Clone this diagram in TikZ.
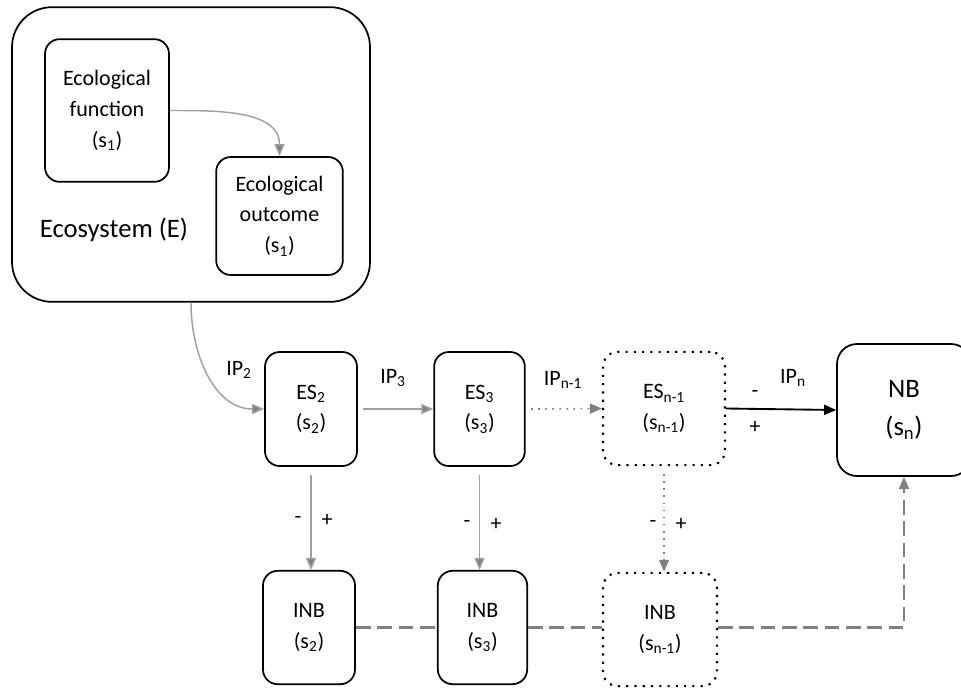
\documentclass[tikz,border=0pt]{standalone}
\usepackage{fontspec}
\setmainfont{Carlito}
\usepackage{tikz}
\usetikzlibrary{arrows.meta}
\definecolor{linkgray}{RGB}{160,160,160}
\definecolor{headgray}{RGB}{128,128,128}

\tikzset{
	box/.style={draw, line width=1.3pt, rounded corners=11pt, align=center, inner sep=0pt,
		font=\fontsize{16.5}{23}\selectfont},
	dotbox/.style={box, line width=1.6pt, dash pattern=on 1.6pt off 4.6pt, line cap=butt},
	link/.style={draw=linkgray, line width=1.1pt, -{Triangle[length=9pt,width=7.5pt,fill=headgray]}},
	dotlink/.style={link, draw=headgray, line width=1.2pt, dash pattern=on 1.3pt off 4pt},
	dashlink/.style={draw=headgray, line width=1.6pt, dash pattern=on 11pt off 5pt},
	lbl/.style={font=\fontsize{16.5}{18}\selectfont, inner sep=0pt},
}

\begin{document}
\begin{tikzpicture}[x=0.75pt,y=-0.75pt]
	\clip (0,0) rectangle (961,687);

	\node[box, rounded corners=30pt, minimum width=268.5pt, minimum height=221pt] (eco) at (191,154.5) {};
	\node[box, minimum width=93pt, minimum height=107pt] (func) at (107,110.5) {Ecological\\function\\(s\textsubscript{1})};
	\node[box, minimum width=95pt, minimum height=88.5pt] (outc) at (279.5,216) {Ecological\\outcome\\(s\textsubscript{1})};
	\node[lbl, font=\fontsize{20}{24}\selectfont] (ecolbl) at (114,230) {Ecosystem (E)};

	\node[box, minimum width=69pt, minimum height=85.5pt] (es2) at (311,409) {ES\textsubscript{2}\\(s\textsubscript{2})};
	\node[box, minimum width=68pt, minimum height=85.5pt] (es3) at (479.5,409) {ES\textsubscript{3}\\(s\textsubscript{3})};
	\node[dotbox, minimum width=91.5pt, minimum height=85pt] (esn) at (664,408.5) {ES\textsubscript{n-1}\\(s\textsubscript{n-1})};
	\node[box, rounded corners=15pt, minimum width=100.5pt, minimum height=99pt,
		font=\fontsize{20}{28}\selectfont] (nb) at (904,410) {NB\\(s\textsubscript{n})};

	\node[box, minimum width=69pt, minimum height=85pt] (inb2) at (309,627.5) {INB\\(s\textsubscript{2})};
	\node[box, minimum width=67pt, minimum height=85pt] (inb3) at (482.5,627.5) {INB\\(s\textsubscript{3})};
	\node[dotbox, minimum width=85.5pt, minimum height=85pt] (inbn) at (660,629.5) {INB\\(s\textsubscript{n-1})};

	\draw[link] (func.east) to[out=0,in=90] (outc.north);
	\draw[link] (eco.south) to[out=-90,in=180] (es2.west);
	\draw[link] ([xshift=4pt]es2.east) -- (es3.west);
	\draw[dotlink] ([xshift=4pt]es3.east) -- (esn.west);
	\draw[line width=1.4pt, -{Triangle[length=9pt,width=7.5pt]}] (esn.east) -- (nb.west);

	\draw[link] ([yshift=-6pt]es2.south) -- (es2.south |- inb2.north);
	\draw[link] ([yshift=-6pt]es3.south) -- (es3.south |- inb3.north);
	\draw[dotlink] ([yshift=-6pt]esn.south) -- (esn.south |- inbn.north);

	\draw[dashlink] (inb2.east) -- (inb3.west);
	\draw[dashlink] (inb3.east) -- (inb3.east -| inbn.west);
	\draw[dashlink, -{Triangle[length=9pt,width=7.5pt,fill=headgray]}] (inb3.east -| inbn.east) -| (nb.south);

	\node[lbl] (ip2) at (239,370) {IP\textsubscript{2}};
	\node[lbl] (ip3) at (393,378) {IP\textsubscript{3}};
	\node[lbl] (ipn1) at (563,380) {IP\textsubscript{n-1}};
	\node[lbl] (ipn) at (793,378) {IP\textsubscript{n}};
	\node[lbl] (mn) at (755,394) {-};
	\node[lbl] (pn) at (755,427) {+};

	\node[lbl] (m2) at (298,520) {-};
	\node[lbl] (p2) at (327,520) {+};
	\node[lbl] (m3) at (467,524) {-};
	\node[lbl] (p3) at (496,524) {+};
	\node[lbl] (mn1) at (653,524) {-};
	\node[lbl] (pn1) at (681,524) {+};
\end{tikzpicture}
\end{document}
